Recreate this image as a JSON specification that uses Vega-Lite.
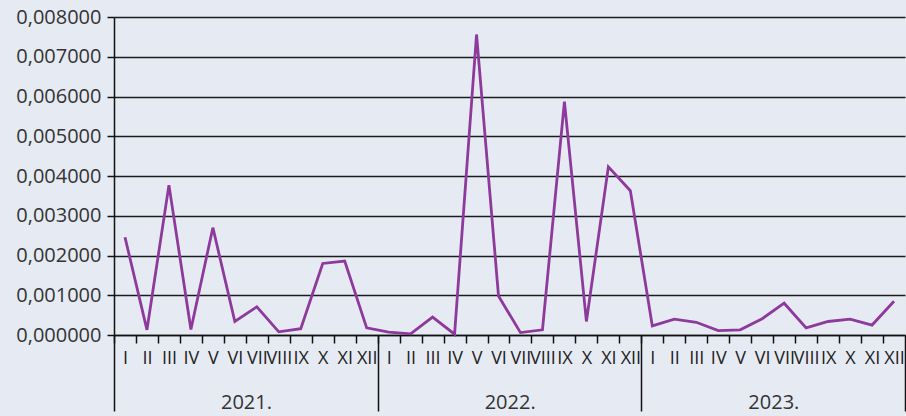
{
  "$schema": "https://vega.github.io/schema/vega-lite/v6.json",
  "width": 791,
  "height": 318,
  "autosize": {"type": "none"},
  "padding": {"left": 114, "top": 17, "right": 1, "bottom": 81},
  "background": "#e6ebf3",
  "config": {"view": {"stroke": null}, "font": "Open Sans"},
  "data": {
    "values": [
      {"ym": "2021-01", "year": 2021, "value": 0.00246},
      {"ym": "2021-02", "year": 2021, "value": 0.00013},
      {"ym": "2021-03", "year": 2021, "value": 0.00377},
      {"ym": "2021-04", "year": 2021, "value": 0.00014},
      {"ym": "2021-05", "year": 2021, "value": 0.00270},
      {"ym": "2021-06", "year": 2021, "value": 0.00034},
      {"ym": "2021-07", "year": 2021, "value": 0.00071},
      {"ym": "2021-08", "year": 2021, "value": 0.00008},
      {"ym": "2021-09", "year": 2021, "value": 0.00016},
      {"ym": "2021-10", "year": 2021, "value": 0.00180},
      {"ym": "2021-11", "year": 2021, "value": 0.00186},
      {"ym": "2021-12", "year": 2021, "value": 0.00018},
      {"ym": "2022-01", "year": 2022, "value": 0.00007},
      {"ym": "2022-02", "year": 2022, "value": 0.00003},
      {"ym": "2022-03", "year": 2022, "value": 0.00045},
      {"ym": "2022-04", "year": 2022, "value": 0.00002},
      {"ym": "2022-05", "year": 2022, "value": 0.00756},
      {"ym": "2022-06", "year": 2022, "value": 0.00098},
      {"ym": "2022-07", "year": 2022, "value": 0.00006},
      {"ym": "2022-08", "year": 2022, "value": 0.00013},
      {"ym": "2022-09", "year": 2022, "value": 0.00587},
      {"ym": "2022-10", "year": 2022, "value": 0.00034},
      {"ym": "2022-11", "year": 2022, "value": 0.00423},
      {"ym": "2022-12", "year": 2022, "value": 0.00363},
      {"ym": "2023-01", "year": 2023, "value": 0.00023},
      {"ym": "2023-02", "year": 2023, "value": 0.00040},
      {"ym": "2023-03", "year": 2023, "value": 0.00032},
      {"ym": "2023-04", "year": 2023, "value": 0.00011},
      {"ym": "2023-05", "year": 2023, "value": 0.00013},
      {"ym": "2023-06", "year": 2023, "value": 0.00041},
      {"ym": "2023-07", "year": 2023, "value": 0.00080},
      {"ym": "2023-08", "year": 2023, "value": 0.00018},
      {"ym": "2023-09", "year": 2023, "value": 0.00034},
      {"ym": "2023-10", "year": 2023, "value": 0.00040},
      {"ym": "2023-11", "year": 2023, "value": 0.00025},
      {"ym": "2023-12", "year": 2023, "value": 0.00085}
    ]
  },
  "layer": [
    {
      "mark": {"type": "point", "opacity": 0},
      "encoding": {
        "x": {
          "field": "year",
          "type": "quantitative",
          "scale": {"domain": [2021, 2024], "nice": false, "zero": false},
          "axis": {
            "title": null,
            "orient": "bottom",
            "values": [2021, 2022, 2023, 2024],
            "labelExpr": "datum.value < 2024 ? datum.value + '.' : ''",
            "tickSize": 76,
            "tickColor": "#111111",
            "tickWidth": 1.5,
            "domain": false,
            "grid": false,
            "labelOffset": 132,
            "labelPadding": -19,
            "labelFontSize": 20,
            "labelColor": "#333333",
            "labelFlush": false,
            "labelOverlap": false
          }
        },
        "y": {
          "field": "value",
          "type": "quantitative",
          "scale": {"domain": [0, 0.008], "nice": false},
          "axis": {
            "title": null,
            "values": [0, 0.001, 0.002, 0.003, 0.004, 0.005, 0.006, 0.007, 0.008],
            "labelExpr": "replace(format(datum.value, '.6f'), '.', ',')",
            "tickSize": 7,
            "tickColor": "#111111",
            "tickWidth": 1.5,
            "domainColor": "#111111",
            "domainWidth": 1.5,
            "grid": true,
            "gridColor": "#1c1c1c",
            "gridWidth": 1.5,
            "labelFontSize": 20,
            "labelColor": "#333333",
            "labelPadding": 6,
            "labelFlush": false,
            "labelOverlap": false
          }
        }
      }
    },
    {
      "mark": {"type": "line", "color": "#8d3a9c", "strokeWidth": 2.8},
      "encoding": {
        "x": {
          "field": "ym",
          "type": "ordinal",
          "sort": null,
          "scale": {"type": "point", "padding": 0.5},
          "axis": {
            "title": null,
            "orient": "bottom",
            "labelAngle": 0,
            "labelExpr": "['I','II','III','IV','V','VI','VII','VIII','IX','X','XI','XII'][toNumber(substring(datum.value,5,7))-1]",
            "tickOffset": -11,
            "labelOffset": 11,
            "tickSize": 8,
            "tickColor": "#111111",
            "tickWidth": 1.5,
            "domainColor": "#111111",
            "domainWidth": 1.5,
            "grid": false,
            "labelFontSize": 18,
            "labelColor": "#222222",
            "labelPadding": 6,
            "labelOverlap": false
          }
        },
        "y": {
          "field": "value",
          "type": "quantitative",
          "scale": {"domain": [0, 0.008], "nice": false},
          "axis": {
            "title": null,
            "values": [0, 0.001, 0.002, 0.003, 0.004, 0.005, 0.006, 0.007, 0.008],
            "labelExpr": "replace(format(datum.value, '.6f'), '.', ',')",
            "tickSize": 7,
            "tickColor": "#111111",
            "tickWidth": 1.5,
            "domainColor": "#111111",
            "domainWidth": 1.5,
            "grid": true,
            "gridColor": "#1c1c1c",
            "gridWidth": 1.5,
            "labelFontSize": 20,
            "labelColor": "#333333",
            "labelPadding": 6,
            "labelFlush": false,
            "labelOverlap": false
          }
        }
      }
    }
  ],
  "resolve": {"scale": {"x": "independent"}, "axis": {"x": "independent"}}
}
